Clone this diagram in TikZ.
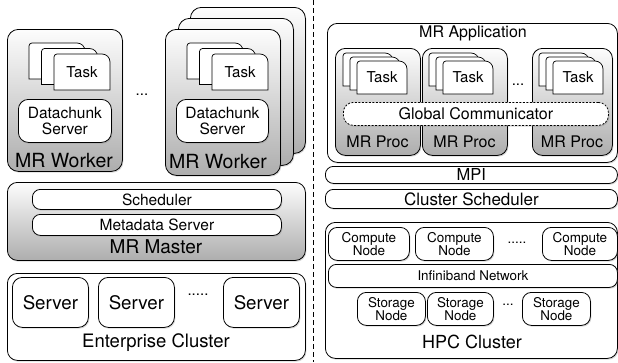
\documentclass[tikz,border=0pt]{standalone}
\usepackage{fontspec}
\setmainfont{TeX Gyre Heros}
\usetikzlibrary{shadows}

\tikzset{
    blok/.style = {draw, line width = 0.8pt, rounded corners = 10pt, anchor = north west, inner sep = 0pt,
        drop shadow = {shadow xshift = 1pt, shadow yshift = -1.3pt, opacity = 0.3}},
    seryj/.style = {top color = black!1, bottom color = black!32},
    belyj/.style = {fill = white},
    polosa/.style = {blok, belyj, rounded corners = 8pt},
    kartochka/.style = {draw, fill = white, line width = 0.7pt},
    tekst/.style = {inner sep = 0pt, align = center, font = \fontsize{#1}{#1}\selectfont},
}

% стопка карточек: имя, x, y передней, ширина, высота, dx, dy
\newcommand{\zadachi}[7]{
    \foreach \k in {2, 1, 0} {
        \draw [kartochka] ( {#2-\k*#6}, {#3-\k*#7+#5} ) -- ++( 0, {-#5+3} )
            arc [start angle = 180, end angle = 270, radius = 3] -- ++( {#4-11}, 0 )
            arc [start angle = 270, end angle = 360, radius = 8] -- ++( 0, {#5-8} ) -- cycle;
    }
    \node [tekst = 15pt] (#1) at ( {#2+#4/2}, {#3+#5/2} ) {Task};
}

\begin{document}
\begin{tikzpicture}[x = 1pt, y = -1pt]
    \useasboundingbox ( 0, 0 ) rectangle ( 618, 362 );

    % разделитель
    \coordinate (verh) at ( 313, 0 );
    \coordinate (niz) at ( 313, 362 );
    \draw [line width = 0.7pt, dash pattern = on 5pt off 3pt] (verh) -- (niz);

    % рабочие узлы
    \node [blok, seryj, rounded corners = 11pt, minimum width = 115pt, minimum height = 142pt] (rab1) at ( 7, 29 ) {};
    \zadachi{zad1}{54}{54}{56}{36}{12.5}{5.5}
    \node [blok, belyj, minimum width = 93pt, minimum height = 43pt] (dan1) at ( 18, 99 ) {};
    \node [tekst = 15.5pt] at (dan1.center) {\baselineskip = 19pt Datachunk\\Server};
    \node [tekst = 19.5pt] (podp1) at ( 64, 161 ) {MR Worker};

    \node [tekst = 15pt] (tochki1) at ( 142, 95 ) {...};

    \node [blok, seryj, rounded corners = 11pt, minimum width = 115pt, minimum height = 146pt] (rab4) at ( 190, 7 ) {};
    \node [blok, seryj, rounded corners = 11pt, minimum width = 115pt, minimum height = 147pt] (rab3) at ( 178, 18 ) {};
    \node [blok, seryj, rounded corners = 11pt, minimum width = 115pt, minimum height = 146pt] (rab2) at ( 165, 29 ) {};
    \zadachi{zad2}{212}{54}{56}{36}{12.5}{5.5}
    \node [blok, belyj, minimum width = 92pt, minimum height = 43pt] (dan2) at ( 176, 99 ) {};
    \node [tekst = 15.5pt] at (dan2.center) {\baselineskip = 19pt Datachunk\\Server};
    \node [tekst = 19.5pt] (podp2) at ( 218, 162 ) {MR Worker};

    % мастер
    \node [blok, seryj, minimum width = 298pt, minimum height = 78pt] (master) at ( 7, 182 ) {};
    \node [polosa, minimum width = 249pt, minimum height = 20pt] (plan) at ( 32, 189 ) {};
    \node [tekst = 15.5pt] at (plan.center) {Scheduler};
    \node [polosa, minimum width = 249pt, minimum height = 21pt] (meta) at ( 32, 214 ) {};
    \node [tekst = 15.5pt] at (meta.center) {Metadata Server};
    \node [tekst = 19pt] (podpm) at ( 156, 247 ) {MR Master};

    % кластер предприятия
    \node [blok, belyj, minimum width = 298pt, minimum height = 87pt] (ent) at ( 7, 273 ) {};
    \foreach \x/\n in {12/s1, 98/s2, 223/s3} {
        \node [blok, belyj, minimum width = 76pt, minimum height = 50pt] (\n) at ( \x, 277 ) {};
        \node [tekst = 18.7pt] at (\n.center) {Server};
    }
    \node [tekst = 15pt] (tochki2) at ( 198, 295 ) {.....};
    \node [tekst = 18.5pt] (podpe) at ( 156, 343 ) {Enterprise Cluster};

    % приложение
    \node [blok, belyj, minimum width = 290pt, minimum height = 139pt] (pril) at ( 327, 23 ) {};
    \node [tekst = 16pt] (podpp) at ( 473, 33 ) {MR Application};
    \foreach \x/\w/\n in {335/85/p1, 422/85/p2, 532/80/p3} {
        \node [blok, seryj, minimum width = \w pt, minimum height = 107pt] (\n) at ( \x, 48 ) {};
        \node [tekst = 16pt] at ( {\x+\w/2}, 142 ) {MR Proc};
    }
    \zadachi{zad3}{357}{61}{50}{33}{7}{4}
    \zadachi{zad4}{443}{61}{50}{33}{7}{4}
    \zadachi{zad5}{553}{61}{50}{33}{7}{4}
    \node [tekst = 15pt] (tochki3) at ( 518, 85 ) {...};
    \node [blok, belyj, rounded corners = 10pt, dash pattern = on 2pt off 1.5pt, drop shadow = {opacity = 0},
        minimum width = 265pt, minimum height = 23pt] (glob) at ( 343, 102 ) {};
    \node [tekst = 16pt] at (glob.center) {Global Communicator};

    % MPI и планировщик
    \node [polosa, minimum width = 292pt, minimum height = 17pt] (mpi) at ( 325, 166 ) {};
    \node [tekst = 16.5pt] at (mpi.center) {MPI};
    \node [polosa, minimum width = 292pt, minimum height = 19pt] (klplan) at ( 325, 189 ) {};
    \node [tekst = 17pt] at (klplan.center) {Cluster Scheduler};

    % HPC кластер
    \node [blok, belyj, minimum width = 292pt, minimum height = 136pt] (hpc) at ( 325, 222 ) {};
    \foreach \x/\w/\n in {328/81/c1, 415/78/c2, 542/75/c3} {
        \node [blok, belyj, rounded corners = 9pt, minimum width = \w pt, minimum height = 33pt] (\n) at ( \x, 227 ) {};
        \node [tekst = 13.5pt] at (\n.center) {\baselineskip = 17pt Compute\\Node};
    }
    \node [tekst = 13.5pt] (tochki4) at ( 517, 243 ) {.....};
    \node [polosa, minimum width = 289pt, minimum height = 23pt] (ib) at ( 328, 264 ) {};
    \node [tekst = 13.4pt] at (ib.center) {Infiniband Network};
    \foreach \x/\w/\n in {357/68/h1, 427/66/h2, 522/68/h3} {
        \node [blok, belyj, rounded corners = 9pt, minimum width = \w pt, minimum height = 33pt] (\n) at ( \x, 292 ) {};
        \node [tekst = 13.4pt] at (\n.center) {\baselineskip = 16pt Storage\\Node};
    }
    \node [tekst = 13.5pt] (tochki5) at ( 508, 305 ) {...};
    \node [tekst = 18pt] (podph) at ( 472, 342 ) {HPC Cluster};
\end{tikzpicture}
\end{document}
